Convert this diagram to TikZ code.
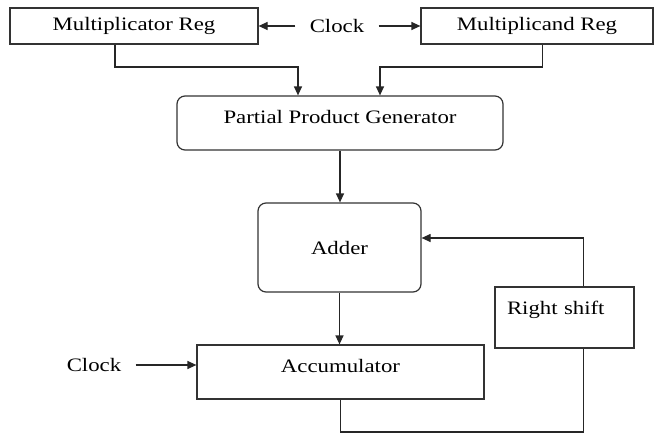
\documentclass[tikz,border=0pt]{standalone}
\usepackage{fontspec}
\setmainfont{Liberation Serif}[FakeStretch=1.2]
\usetikzlibrary{arrows.meta}

\begin{document}
\begin{tikzpicture}[x=0.5pt, y=-0.5pt, font=\fontsize{9.5}{11}\selectfont,
    blk/.style={draw=black!80, line width=0.6pt, inner sep=0pt},
    rblk/.style={blk, rounded corners=4pt},
    lbl/.style={inner xsep=7pt, inner ysep=2pt},
    arr/.style={-{Triangle[length=4.5pt,width=4pt]}, line width=0.6pt, draw=black!85}]
    \useasboundingbox (0,0) rectangle (654,434);

    % Registres du haut et horloge
    \node[blk, minimum width=124pt, minimum height=18pt] (mreg) at (134,26) {Multiplicator Reg};
    \node[lbl] (clkh) at (337,26) {Clock};
    \node[blk, minimum width=116pt, minimum height=18pt] (mcand) at (537,26) {Multiplicand Reg};
    \draw[arr] (clkh.west) -- (mreg.east);
    \draw[arr] (clkh.east) -- (mcand.west);

    % Generateur de produits partiels
    \node[rblk, minimum width=163pt, minimum height=27pt, text height=6pt, text depth=6pt] (ppg) at (340,123) {Partial Product Generator};
    \coordinate (jg) at (298,67);
    \coordinate (jd) at (380,67);
    \draw[arr] ([xshift=-9.5pt]mreg.south) |- (jg) -- (jg |- ppg.north);
    \draw[arr] ([xshift=2.75pt]mcand.south) |- (jd) -- (jd |- ppg.north);

    % Additionneur
    \node[rblk, minimum width=81.5pt, minimum height=44.5pt] (adder) at (339.5,247.5) {Adder};
    \draw[arr] (ppg.south) -- (ppg.south |- adder.north);

    % Accumulateur et horloge
    \node[blk, minimum width=143.5pt, minimum height=27pt, text height=6pt, text depth=6pt] (acc) at (340.5,372) {Accumulator};
    \node[lbl] (clkb) at (94,365) {Clock};
    \draw[arr] (adder.south) -- (adder.south |- acc.north);
    \draw[arr] (clkb.east) -- (clkb.east -| acc.west);

    % Decalage a droite (boucle de retour)
    \node[blk, minimum width=69.5pt, minimum height=30.5pt, inner xsep=6pt, text width=57.5pt, align=left, text height=7pt, text depth=10.5pt] (rsh) at (564.5,317.5) {Right shift};
    \coordinate (rb) at (583.5,238);
    \coordinate (ab) at (583.5,432);
    \draw[arr] (rsh.north -| rb) -- (rb) -- (rb -| adder.east);
    \draw[line width=0.6pt, draw=black!85] (acc.south) |- (ab) -- (ab |- rsh.south);
\end{tikzpicture}
\end{document}
